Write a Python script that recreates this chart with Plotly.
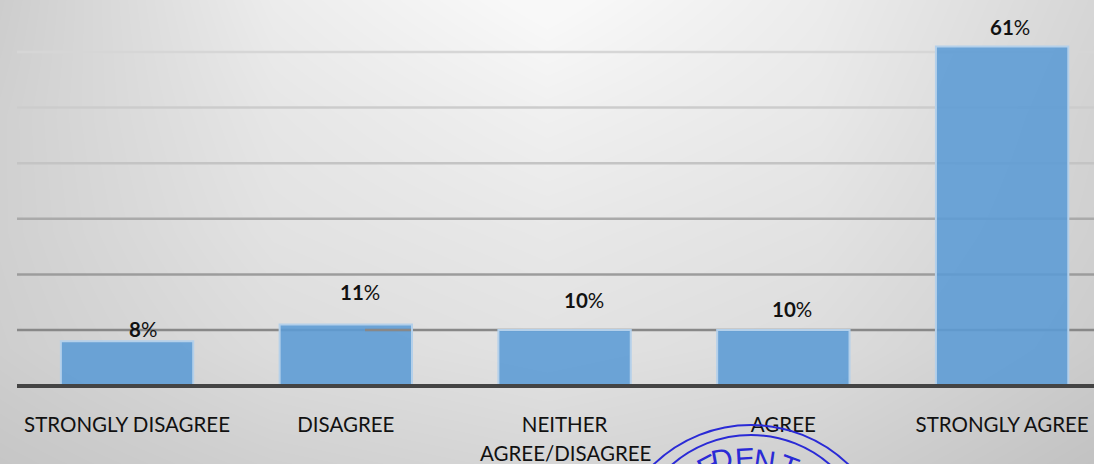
import plotly.graph_objects as go

W, H = 1094, 464

CATEGORIES = ["STRONGLY DISAGREE", "DISAGREE", "NEITHER", "AGREE", "STRONGLY AGREE"]
VALUES = [8, 11, 10, 10, 61]
LABEL_LIFT = [12, 32, 30, 21, 19]
LABEL_SHIFT = [16, 14, 19, 9, 8]

GRID_VALUES = [10, 20, 30, 40, 50, 60]
GRID_COLORS = ["#888888", "#9c9c9c", "#aaaaaa", "#c4c4c4", "#cccccc", "#d6d6d6"]

# background greys, smoothed by the heatmap
BG_X = [0, 273, 547, 820, 1094]
BG_Y = [0, 116, 232, 348, 464]
BG_GREY = [
    [205, 236, 250, 236, 214],
    [208, 230, 240, 232, 210],
    [208, 226, 232, 226, 208],
    [206, 220, 226, 220, 204],
    [198, 208, 214, 208, 194],
]

STAMP_LETTERS = ["E", "D", "E", "N", "T"]
STAMP_X = [708, 738, 758, 780, 806]
STAMP_Y = [466, 459, 458, 460, 466]
STAMP_ANGLE = [-28, -10, -3, 8, 20]

FONT = "Lato, Carlito, Calibri, sans-serif"
BLUE = "#2a2ad6"
Y_RANGE = [0.29, 69.35]


def px(x):
    return x / W


def py(y):
    return 1 - y / H


fig = go.Figure()

# subplots draw in name order: background, then gridlines, then bars
fig.add_trace(go.Heatmap(
    x=BG_X, y=BG_Y, z=BG_GREY,
    colorscale=[[0, "rgb(192,192,192)"], [1, "rgb(248,248,248)"]],
    zmin=192, zmax=248,
    zsmooth="best", showscale=False, hoverinfo="skip",
    xaxis="x", yaxis="y",
))

for val, col in zip(GRID_VALUES, GRID_COLORS):
    fig.add_trace(go.Scatter(
        x=[0, 1], y=[val, val], mode="lines",
        line=dict(color=col, width=2.5),
        hoverinfo="skip", xaxis="x2", yaxis="y2",
    ))

fig.add_trace(go.Bar(
    x=CATEGORIES, y=VALUES,
    width=0.605,
    marker=dict(color="rgba(91,155,213,0.88)", line=dict(color="#b4d0ea", width=2)),
    xaxis="x3", yaxis="y3",
    hovertemplate="%{x}: %{y}%<extra></extra>",
))

shapes = []
# short darker stretch that sits on top of the second bar
shapes.append(dict(
    type="line", xref="paper", yref="y3",
    x0=px(365), x1=px(411), y0=10, y1=10,
    line=dict(color="#888888", width=2.5), layer="above",
))
# stamp rings running off the bottom edge
for cx, cy, r in [(751, 565, 140), (751, 555, 120)]:
    shapes.append(dict(
        type="circle", xref="paper", yref="paper",
        x0=px(cx - r), x1=px(cx + r), y0=py(cy + r), y1=py(cy - r),
        line=dict(color=BLUE, width=2), layer="above",
    ))

annotations = []
for cat, val, lift, shift in zip(CATEGORIES, VALUES, LABEL_LIFT, LABEL_SHIFT):
    annotations.append(dict(
        x=cat, y=val, xref="x3", yref="y3", yshift=lift, xshift=shift,
        text=f"<b>{val}</b>%", showarrow=False, yanchor="middle",
        font=dict(family=FONT, size=20.5, color="#111111"),
    ))
annotations.append(dict(
    x=px(565), y=py(453), xref="paper", yref="paper",
    text="AGREE/DISAGREE", showarrow=False, yanchor="middle",
    font=dict(family=FONT, size=20.5, color="#111111"),
))
for ch, lx, ly, ang in zip(STAMP_LETTERS, STAMP_X, STAMP_Y, STAMP_ANGLE):
    annotations.append(dict(
        x=px(lx), y=py(ly), xref="paper", yref="paper",
        text=ch, textangle=ang, showarrow=False, yanchor="middle",
        font=dict(family="Liberation Sans", size=30, color=BLUE),
    ))

fig.update_layout(
    width=W, height=H,
    autosize=False,
    margin=dict(l=0, r=0, t=0, b=0),
    paper_bgcolor="#dddddd",
    plot_bgcolor="rgba(0,0,0,0)",
    showlegend=False,
    shapes=shapes,
    annotations=annotations,
    xaxis=dict(domain=[0, 1], range=[0, W], visible=False, fixedrange=True),
    yaxis=dict(domain=[0, 1], range=[H, 0], visible=False, fixedrange=True),
    xaxis2=dict(domain=[px(17), 1], range=[0, 1], anchor="y2", visible=False, fixedrange=True),
    yaxis2=dict(domain=[py(384), 1], range=Y_RANGE, anchor="x2", visible=False, fixedrange=True),
    xaxis3=dict(
        domain=[px(17), 1], range=[-0.503, 4.42], anchor="y3",
        type="category", categoryorder="array", categoryarray=CATEGORIES,
        showgrid=False, showline=True, linecolor="#444444", linewidth=4,
        ticks="outside", ticklen=19, tickcolor="rgba(0,0,0,0)",
        tickfont=dict(family=FONT, size=20.5, color="#111111"),
    ),
    yaxis3=dict(
        domain=[py(384), 1], range=Y_RANGE, anchor="x3",
        showgrid=False, zeroline=False, showticklabels=False, ticks="",
    ),
)

fig.write_html(
    "out.html",
    config=dict(displayModeBar=False),
    post_script="document.body.style.margin='0';",
)
